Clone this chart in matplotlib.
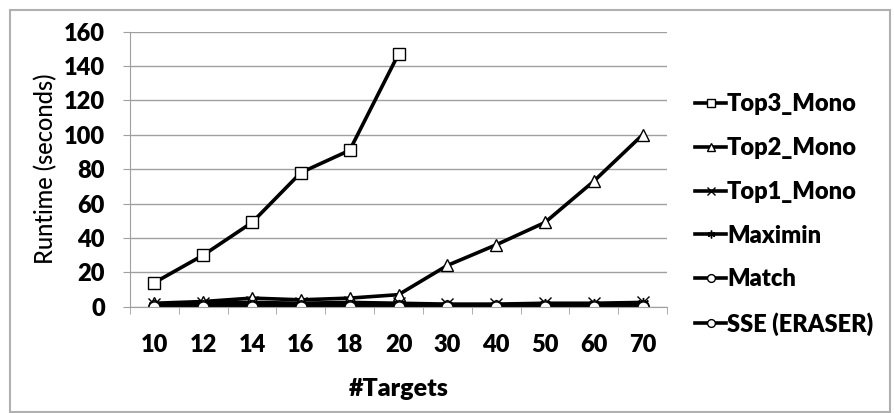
import matplotlib
matplotlib.use('Agg')
import matplotlib.pyplot as plt
from matplotlib.patches import Rectangle
import numpy as np

# data
targets = ['10', '12', '14', '16', '18', '20', '30', '40', '50', '60', '70']
top3_mono = [14, 30, 49, 78, 91, 147]          # stops at 20 targets
top2_mono = [2, 3, 5, 4, 5, 7, 24, 36, 49, 73, 100]
top1_mono = [1.5, 2, 2.5, 2, 2.5, 2, 1.5, 1.5, 2, 2, 2.5]
maximin = [1, 1, 1, 1, 1, 1, 1, 1, 1.5, 1.5, 2]
match = [0.5, 0.5, 0.5, 0.5, 0.5, 0.5, 0.5, 0.5, 0.5, 0.5, 0.5]
sse = [0, 0, 0, 0, 0, 0, 0, 0, 0, 0, 0]

series = [('Top3_Mono', top3_mono, 's'),
          ('Top2_Mono', top2_mono, '^'),
          ('Top1_Mono', top1_mono, 'x'),
          ('Maximin', maximin, (6, 2, 0)),
          ('Match', match, 'o'),
          ('SSE (ERASER)', sse, 'o')]

plt.rcParams['font.family'] = ['Lato', 'DejaVu Sans']
plt.rcParams['font.weight'] = 'heavy'

fig = plt.figure(figsize=(8.94, 4.13), dpi=100)
fig.patches.append(Rectangle((10 / 894, 1 / 413), 880 / 894, 402 / 413,
                             transform=fig.transFigure, fill=False,
                             edgecolor='#b0b0b0', linewidth=1.5))
ax = fig.add_axes([130 / 894, 1 - 306.7 / 413, 537 / 894, 275 / 413])

x = np.arange(len(targets))
for name, vals, mk in series:
    ax.plot(x[:len(vals)], vals, color='black', linewidth=2.6, marker=mk,
            markersize=8, markerfacecolor='white', markeredgecolor='black',
            markeredgewidth=1.0, label=name)

ax.set_xlim(-0.5, len(targets) - 0.5)
ax.set_ylim(0, 160)
ax.set_yticks(range(0, 161, 20))
ax.set_xticks(x)
ax.set_xticklabels(targets)
ax.set_xticks(np.arange(-0.5, len(targets), 1), minor=True)
ax.tick_params(axis='x', which='major', length=0, labelsize=17, pad=20)
ax.tick_params(axis='x', which='minor', length=5, color='#a0a0a0')
ax.tick_params(axis='y', length=5, color='#a0a0a0', labelsize=17, pad=13)
ax.grid(axis='y', color='#a0a0a0', linewidth=1)
ax.set_axisbelow(True)
for s in ['top', 'right']:
    ax.spines[s].set_visible(False)
for s in ['left', 'bottom']:
    ax.spines[s].set_color('#a0a0a0')

ax.set_ylabel('Runtime (seconds)', fontsize=17, fontweight='medium')
ax.yaxis.set_label_coords(-0.135, 0.5)
ax.set_xlabel('#Targets', fontsize=18, fontweight='heavy')
ax.xaxis.set_label_coords(0.5, -0.26)

ax.legend(loc='center left', bbox_to_anchor=(1.035, 0.335), frameon=False,
          fontsize=17, handlelength=1.3, handletextpad=0.05, labelspacing=0.92,
          markerscale=0.7, borderaxespad=0)

fig.savefig('out.png', dpi=100)
